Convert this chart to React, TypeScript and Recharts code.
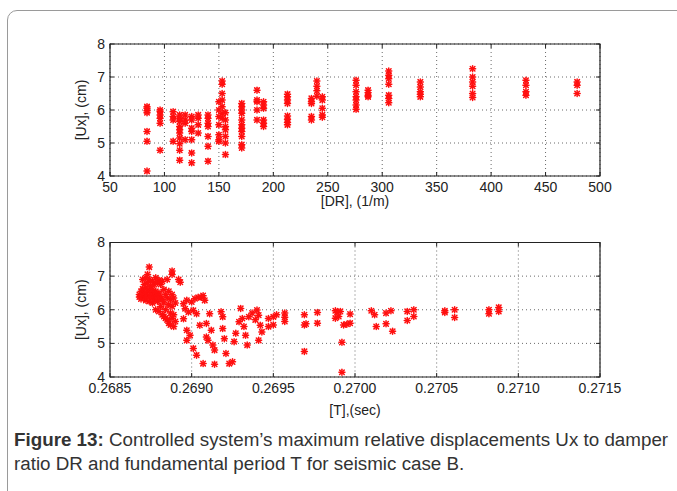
import { ScatterChart, Scatter, XAxis, YAxis, CartesianGrid, ReferenceArea } from 'recharts';

// top panel: damper ratio DR columns and Ux values read in each column
const drColumns = [84, 96, 108, 114, 119, 125, 131, 140, 150, 153, 156, 171, 185, 191, 213, 235, 240, 245, 276, 287, 306, 335, 383, 432, 479];
const uxByColumn = [
  [6.1, 6.05, 5.98, 5.92, 5.35, 5.05, 4.15],
  [6.0, 5.95, 5.85, 5.75, 5.6, 4.78],
  [5.95, 5.8, 5.7, 5.05],
  [5.85, 5.75, 5.65, 5.5, 5.4, 5.3, 5.15, 4.98, 4.78, 4.48],
  [5.85, 5.7, 5.6, 5.1],
  [5.8, 5.7, 5.45, 5.35, 5.1, 4.7, 4.4],
  [5.85, 5.75, 5.55, 5.3],
  [5.85, 5.75, 5.6, 5.5, 5.2, 4.9, 4.45],
  [6.25, 6.0, 5.8, 5.55, 5.25, 5.1, 5.05],
  [6.88, 6.78, 6.5, 6.3, 6.1, 5.9, 5.75],
  [5.92, 5.7, 5.5, 5.4, 5.2, 5.0, 4.65],
  [6.2, 6.1, 6.0, 5.9, 5.7, 5.55, 5.45, 5.35, 5.2, 4.95, 4.85],
  [6.6, 6.3, 6.25, 6.0, 5.7],
  [6.25, 6.15, 6.05, 5.7, 5.6, 5.5],
  [6.48, 6.4, 6.3, 6.2, 5.82, 5.72, 5.62, 5.55],
  [6.35, 6.25, 6.2, 5.8, 5.7],
  [6.88, 6.72, 6.58, 6.42],
  [6.4, 6.3, 6.05, 5.85, 5.78],
  [6.9, 6.75, 6.55, 6.4, 6.3, 6.15, 6.02],
  [6.6, 6.52, 6.45, 6.4],
  [7.18, 7.05, 6.95, 6.78, 6.45, 6.35, 6.22],
  [6.85, 6.7, 6.55, 6.48, 6.4],
  [7.25, 7.0, 6.85, 6.72, 6.5, 6.38],
  [6.9, 6.75, 6.55, 6.45],
  [6.85, 6.75, 6.5],
];

// bottom panel: fundamental period T (sec) and Ux (cm)
const periodT = [
  0.26868, 0.26868, 0.26869, 0.26869, 0.2687, 0.2687, 0.2687, 0.26871, 0.26871, 0.26871,
  0.26872, 0.26872, 0.26872, 0.26872, 0.26873, 0.26873, 0.26873, 0.26873, 0.26874, 0.26874,
  0.26874, 0.26874, 0.26874, 0.26875, 0.26875, 0.26875, 0.26876, 0.26876, 0.26876, 0.26876,
  0.26877, 0.26877, 0.26877, 0.26878, 0.26878, 0.26878, 0.26878, 0.26879, 0.26879, 0.26879,
  0.2688, 0.2688, 0.2688, 0.2688,
  0.26881, 0.26881, 0.26881, 0.26882, 0.26882, 0.26882, 0.26883, 0.26883, 0.26883, 0.26884,
  0.26884, 0.26884, 0.26885, 0.26885, 0.26885, 0.26886, 0.26886, 0.26886, 0.26887, 0.26887,
  0.26887, 0.26888, 0.26888, 0.26888, 0.26888, 0.26888, 0.26889, 0.26889, 0.26889, 0.2689,
  0.2689, 0.26892, 0.26893,
  0.26895, 0.26896, 0.26897, 0.26898, 0.26895, 0.26897, 0.26897, 0.26899, 0.269, 0.26901,
  0.26902, 0.26903, 0.26904, 0.26905, 0.26906, 0.26907, 0.26908, 0.26901, 0.26903, 0.26907,
  0.26909, 0.2691, 0.26909, 0.26912, 0.26913, 0.26914, 0.26914, 0.26911,
  0.26918, 0.26919, 0.26919, 0.2692, 0.26921, 0.26925, 0.26926, 0.26927, 0.26929, 0.2693,
  0.26931, 0.26932, 0.26933, 0.26934, 0.26935, 0.26937, 0.26939, 0.2694, 0.26941, 0.26942,
  0.26943, 0.26941, 0.26947, 0.26947, 0.2695, 0.2695, 0.26952, 0.26923,
  0.26957, 0.26957, 0.26957, 0.26969, 0.26969, 0.2697, 0.26969, 0.26977, 0.26977,
  0.26988, 0.26989, 0.2699, 0.26988, 0.26991, 0.26993, 0.26995, 0.26997, 0.26997, 0.26992, 0.26992,
  0.2701, 0.27012, 0.27013, 0.27019, 0.27019, 0.27022, 0.27023,
  0.27032, 0.27032, 0.27036, 0.27036, 0.27055, 0.27055, 0.27061, 0.27061,
  0.27082, 0.27082, 0.27088, 0.27088,
];
const periodUx = [
  6.45, 6.38, 6.55, 6.32, 6.62, 6.42, 6.9, 6.75, 6.5, 6.35,
  6.95, 6.65, 6.45, 6.28, 7.05, 6.8, 6.55, 6.38, 7.27, 6.9,
  6.6, 6.42, 6.25, 6.7, 6.5, 6.33, 6.85, 6.6, 6.4, 6.2,
  6.75, 6.48, 6.3, 6.95, 6.55, 6.38, 6.0, 6.8, 6.42, 6.25,
  6.88, 6.5, 6.32, 5.95,
  6.75, 6.4, 6.1, 6.85, 6.3, 5.85, 6.6, 6.2, 5.8, 6.45,
  6.0, 5.75, 6.9, 6.35, 5.7, 6.55, 6.15, 5.6, 6.3, 5.9,
  5.55, 7.15, 7.05, 6.45, 6.1, 5.75, 6.35, 5.85, 5.5, 6.2,
  5.65, 6.9, 6.82,
  6.18, 6.03, 6.28, 5.93, 5.73, 5.39, 5.09, 5.24, 6.23, 5.98,
  6.33, 5.88, 6.37, 5.54, 6.37, 6.42, 6.28, 4.85, 4.65, 4.4,
  5.19, 5.09, 5.59, 5.39, 4.95, 4.38, 4.8, 5.88,
  5.94, 5.79, 5.44, 5.14, 4.7, 4.45, 5.05, 5.3, 5.64, 6.04,
  5.74, 5.5, 5.24, 4.95, 5.79, 5.9, 5.7, 5.99, 5.84, 5.54,
  5.34, 5.09, 5.74, 5.5, 5.79, 5.55, 5.85, 4.4,
  5.9, 5.78, 5.65, 5.85, 5.55, 5.58, 4.76, 5.92, 5.6,
  5.97, 5.92, 5.8, 5.75, 5.95, 5.55, 5.57, 5.6, 5.87, 5.03, 4.14,
  5.97, 5.85, 5.5, 5.9, 5.58, 5.97, 5.36,
  5.95, 5.68, 6.0, 5.8, 5.97, 5.92, 6.0, 5.77,
  6.0, 5.88, 6.07, 5.95,
];

const drTicks = [50, 100, 150, 200, 250, 300, 350, 400, 450, 500];
const tTicks = [0.2685, 0.269, 0.2695, 0.27, 0.2705, 0.271, 0.2715];
const uxTicks = [4, 5, 6, 7, 8];

const drData = drColumns.flatMap((dr, i) => uxByColumn[i].map((ux) => ({ x: dr, y: ux })));
const tData = periodT.map((t, i) => ({ x: t, y: periodUx[i] }));

const FONT = '"Liberation Sans", Arial, Helvetica, sans-serif';
const INK = '#222';

const W = 677;
const PLOT_L = 110;
const PLOT_R = 600;

function Star({ cx, cy }: { cx?: number; cy?: number }) {
  if (cx == null || cy == null) return null;
  const d = 2.3;
  return (
    <g stroke="#ff1010" strokeWidth={1.5} strokeLinecap="round">
      <circle cx={cx} cy={cy} r={1.6} fill="#ff1010" stroke="none" />
      <line x1={cx - 3} x2={cx + 3} y1={cy} y2={cy} />
      <line x1={cx} x2={cx} y1={cy - 3} y2={cy + 3} />
      <line x1={cx - d} x2={cx + d} y1={cy - d} y2={cy + d} />
      <line x1={cx - d} x2={cx + d} y1={cy + d} y2={cy - d} />
    </g>
  );
}

function makeXTick(top: number, bottom: number, fmt: (v: number) => string) {
  return (props: any) => {
    const { x, y, payload } = props;
    return (
      <g>
        <line x1={x} x2={x} y1={bottom} y2={bottom - 4} stroke={INK} />
        <line x1={x} x2={x} y1={top} y2={top + 4} stroke={INK} />
        <text x={x} y={y} dy="0.71em" textAnchor="middle" fontSize={14} fontFamily={FONT} fill={INK}>
          {fmt(payload.value)}
        </text>
      </g>
    );
  };
}

function YTick(props: any) {
  const { x, y, payload } = props;
  return (
    <g>
      <line x1={PLOT_L} x2={PLOT_L + 4} y1={y} y2={y} stroke={INK} />
      <line x1={PLOT_R - 4} x2={PLOT_R} y1={y} y2={y} stroke={INK} />
      <text x={x} y={y} dy="0.355em" textAnchor="end" fontSize={14} fontFamily={FONT} fill={INK}>
        {payload.value}
      </text>
    </g>
  );
}

type PanelProps = {
  data: { x: number; y: number }[];
  top: number;
  height: number;
  plotTop: number;
  plotBottom: number;
  xDomain: [number, number];
  xTicks: number[];
  fmt: (v: number) => string;
  xTitle: string;
  titleShift: number;
};

function Panel({ data, top, height, plotTop, plotBottom, xDomain, xTicks, fmt, xTitle, titleShift }: PanelProps) {
  const axisH = height - plotBottom;
  return (
    <div style={{ position: 'absolute', left: 0, top }}>
      <ScatterChart
        width={W}
        height={height}
        margin={{ top: plotTop, right: W - PLOT_R, left: 56, bottom: 0 }}
      >
        <CartesianGrid stroke="#6a6a6a" strokeDasharray="1 3" horizontalValues={uxTicks} verticalValues={xTicks} />
        <XAxis
          type="number"
          dataKey="x"
          domain={xDomain}
          ticks={xTicks}
          allowDataOverflow
          height={axisH}
          axisLine={false}
          tickLine={false}
          tickSize={4}
          tickMargin={2}
          interval={0}
          tick={makeXTick(plotTop, plotBottom, fmt)}
          label={{ value: xTitle, position: 'center', fontSize: 14, fontFamily: FONT, fill: INK, dy: titleShift }}
        />
        <YAxis
          type="number"
          dataKey="y"
          domain={[4, 8]}
          ticks={uxTicks}
          width={PLOT_L - 56}
          axisLine={false}
          tickLine={false}
          tickSize={3}
          tickMargin={2}
          interval={0}
          tick={YTick}
          label={{ value: '[Ux], (cm)', position: 'center', angle: -90, fontSize: 14, fontFamily: FONT, fill: INK, dx: -2 }}
        />
        <ReferenceArea x1={xDomain[0]} x2={xDomain[1]} y1={4} y2={8} fill="none" stroke={INK} strokeWidth={1.2} />
        <Scatter data={data} shape={(p: any) => <Star cx={p.cx} cy={p.cy} />} isAnimationActive={false} />
      </ScatterChart>
    </div>
  );
}

export default function App() {
  return (
    <div
      style={{
        position: 'absolute',
        left: 0,
        top: 0,
        width: W,
        height: 491,
        background: '#fff',
        overflow: 'hidden',
        fontFamily: FONT,
      }}
    >
      <div
        style={{
          position: 'absolute',
          left: 7,
          top: 10,
          width: 700,
          height: 520,
          border: '1px solid #9a9a9a',
          borderRadius: 10,
        }}
      />
      <Panel
        data={drData}
        top={0}
        height={220}
        plotTop={44}
        plotBottom={176}
        xDomain={[50, 500]}
        xTicks={drTicks}
        fmt={(v) => String(v)}
        xTitle="[DR], (1/m)"
        titleShift={3}
      />
      <Panel
        data={tData}
        top={200}
        height={243}
        plotTop={42.5}
        plotBottom={177}
        xDomain={[0.2685, 0.2715]}
        xTicks={tTicks}
        fmt={(v) => v.toFixed(4)}
        xTitle="[T],(sec)"
        titleShift={0}
      />
      <div
        style={{
          position: 'absolute',
          left: 14,
          top: 428,
          fontSize: 18.8,
          lineHeight: '24px',
          color: '#333',
          whiteSpace: 'nowrap',
        }}
      >
        <b>Figure 13:</b> Controlled system’s maximum relative displacements Ux to damper
        <br />
        ratio DR and fundamental period T for seismic case B.
      </div>
    </div>
  );
}
